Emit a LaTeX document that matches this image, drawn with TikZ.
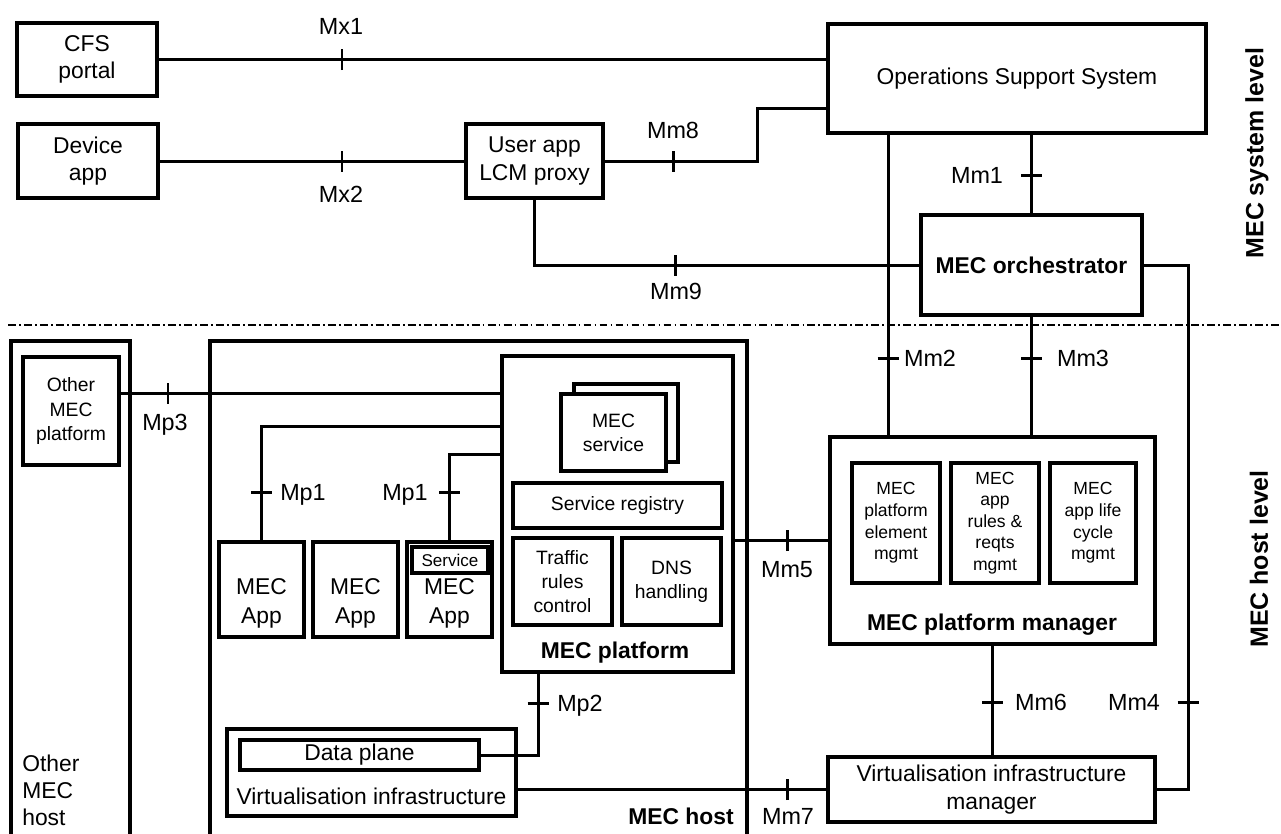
\documentclass[tikz,border=0pt]{standalone}
\usepackage{fontspec}
\setmainfont{Liberation Sans}

\begin{document}
\begin{tikzpicture}[x=0.02cm, y=-0.02cm,
        box/.style={draw, line width=1.8pt, fill=white, align=center, inner sep=0pt, font=\fontsize{13}{15.6}\selectfont},
        inbox/.style={box, font=\fontsize{11}{13.7}\selectfont},
        mgbox/.style={box, font=\fontsize{10}{12.3}\selectfont},
        frame/.style={line width=1.8pt},
        conn/.style={line width=1.7pt},
        lbl/.style={font=\fontsize{13.3}{16}\selectfont, inner sep=0pt, text height=9.5pt, text depth=0pt},
        txt/.style={font=\fontsize{13}{16.5}\selectfont, align=center, inner sep=0pt},
        title/.style={font=\bfseries\fontsize{13}{15.6}\selectfont, inner sep=0pt},
        level/.style={font=\bfseries\fontsize{14.2}{17}\selectfont, rotate=90, inner sep=0pt}]
    \useasboundingbox (0,0) rectangle (1281,833);

    % frames of the hosts
    \draw[frame] (11,834) |- (130,341) -- (130,834);
    \draw[frame] (210,834) |- (747,341) -- (747,834);
    \draw[line width=1pt, dash pattern=on 4.5pt off 1.8pt on 1pt off 1.8pt] (8,325) -- (1281,325);

    % MEC system level
    \node[box, minimum width=2.8cm, minimum height=1.46cm] (cfs) at (87,59.5) {CFS\\portal};
    \node[box, minimum width=2.8cm, minimum height=1.48cm] (devapp) at (88,161) {Device\\app};
    \node[box, minimum width=2.74cm, minimum height=1.48cm] (lcm) at (534.5,161) {User app\\LCM proxy};
    \node[box, minimum width=7.56cm, minimum height=2.18cm] (oss) at (1017,78.5) {Operations Support System};
    \node[box, minimum width=4.42cm, minimum height=2cm, font=\bfseries\fontsize{13}{15.6}\selectfont] (orch) at (1031.5,265) {MEC orchestrator};

    \node[level] (syslvl) at (1257,153) {MEC system level};
    \node[level] (hostlvl) at (1259,559) {MEC host level};

    % MEC host level
    \node[inbox, minimum width=1.92cm, minimum height=2.16cm, font=\fontsize{11}{14.2}\selectfont] (otplat) at (71,411) {Other\\MEC\\platform};
    \node[txt, anchor=west, align=left, font=\fontsize{13}{15.4}\selectfont] (othost) at (22,790) {Other\\MEC\\host};
    \node[title] (hostl) at (681,816) {MEC host};

    \node[box, minimum width=4.62cm, minimum height=6.32cm] (plat) at (617.5,514) {};
    \node[title] (platl) at (615,653) {MEC platform};
    \node[box, minimum width=2.08cm, minimum height=1.56cm] (svcback) at (626,423) {};
    \node[inbox, minimum width=2.1cm, minimum height=1.54cm] (svc) at (613.5,432.5) {MEC\\service};
    \node[inbox, minimum width=4.18cm, minimum height=0.9cm] (reg) at (617.5,505.5) {Service registry};
    \node[inbox, minimum width=1.98cm, minimum height=1.74cm] (traffic) at (562.5,581.5) {Traffic\\rules\\control};
    \node[inbox, minimum width=1.98cm, minimum height=1.74cm] (dns) at (671.5,581.5) {DNS\\handling};

    \node[box, minimum width=1.7cm, minimum height=1.9cm] (app1) at (261.5,589.5) {};
    \node[box, minimum width=1.7cm, minimum height=1.9cm] (app2) at (355.5,589.5) {};
    \node[box, minimum width=1.7cm, minimum height=1.9cm] (app3) at (449.5,589.5) {};
    \node[txt] (app1t) at (261.5,603) {MEC\\App};
    \node[txt] (app2t) at (355.5,603) {MEC\\App};
    \node[txt] (app3t) at (449.5,603) {MEC\\App};
    \node[box, minimum width=1.52cm, minimum height=0.52cm, font=\fontsize{9.7}{11}\selectfont] (svcmini) at (450,560) {Service};

    \node[box, minimum width=5.78cm, minimum height=1.74cm] (vi) at (371.5,772.5) {};
    \node[txt] (vit) at (371.5,796) {Virtualisation infrastructure};
    \node[box, minimum width=4.78cm, minimum height=0.6cm] (dp) at (359.5,755) {Data plane};

    \node[box, minimum width=6.5cm, minimum height=4.14cm] (pm) at (992.5,540.5) {};
    \node[title] (pml) at (992,625) {MEC platform manager};
    \node[mgbox, minimum width=1.76cm, minimum height=2.4cm] (pe) at (896,523) {MEC\\platform\\element\\mgmt};
    \node[mgbox, minimum width=1.76cm, minimum height=2.4cm] (ar) at (995,523) {MEC\\app\\rules \&\\reqts\\mgmt};
    \node[mgbox, minimum width=1.72cm, minimum height=2.4cm] (lc) at (1093,523) {MEC\\app life\\cycle\\mgmt};
    \node[box, minimum width=6.54cm, minimum height=1.3cm] (vim) at (991.5,789.5) {Virtualisation infrastructure\\manager};

    % reference points
    \coordinate (mx1) at (342,59.5);
    \coordinate (mx2) at (342,161);
    \coordinate (mm8) at (673,161);
    \coordinate (mm8bend) at (757,108);
    \coordinate (mm9) at (675,265);
    \coordinate (mm1) at (1031.5,175);
    \coordinate (mm2) at (888,358);
    \coordinate (mm3) at (1031.5,358);
    \coordinate (mm4) at (1188,702);
    \coordinate (mm5) at (787,540.5);
    \coordinate (mm6) at (992.5,702);
    \coordinate (mm7) at (787,789.5);
    \coordinate (mp3) at (168,393);
    \coordinate (mp1a) at (261.5,492);
    \coordinate (mp1atop) at (261.5,426);
    \coordinate (mp1b) at (449.5,492);
    \coordinate (mp1btop) at (449.5,454);
    \coordinate (mp2) at (538,703);

    % reference points lines
    \draw[conn] (cfs.east) -- (cfs.east -| oss.west);
    \draw[conn] (devapp) -- (lcm);
    \draw[conn] (lcm.east) -| (mm8bend) -- (mm8bend -| oss.west);
    \draw[conn] (lcm.south) |- (orch.west);
    \draw[conn] (orch.north) -- (orch.north |- oss.south);
    \draw[conn] (oss.south -| mm2) -- (mm2 |- pm.north);
    \draw[conn] (orch.south) -- (orch.south |- pm.north);
    \draw[conn] (orch.east) -| (mm4) |- (vim.east);
    \draw[conn] (otplat.east |- mp3) -- (mp3 -| plat.west);
    \draw[conn] (app1.north) -- (mp1atop) -- (mp1atop -| plat.west);
    \draw[conn] (app3.north) -- (mp1btop) -- (mp1btop -| plat.west);
    \draw[conn] (plat.south -| mp2) -- (mp2) |- (dp.east);
    \draw[conn] (pm.west) -- (pm.west -| plat.east);
    \draw[conn] (pm.south) -- (pm.south |- vim.north);
    \draw[conn] (vim.west) -- (vim.west -| vi.east);

    % ticks
    \foreach \p in {mx1,mx2,mm8,mm9,mm5,mm7,mp3}
        \draw[conn] ([yshift=-0.21cm]\p) -- ([yshift=0.21cm]\p);
    \foreach \p in {mm1,mm2,mm3,mm4,mm6,mp1a,mp1b,mp2}
        \draw[conn] ([xshift=-0.21cm]\p) -- ([xshift=0.21cm]\p);

    % names of reference points
    \node[lbl] (mx1l) at (341,26) {Mx1};
    \node[lbl] (mx2l) at (341,194) {Mx2};
    \node[lbl] (mm8l) at (673,130) {Mm8};
    \node[lbl] (mm9l) at (676,291) {Mm9};
    \node[lbl] (mm1l) at (977,175) {Mm1};
    \node[lbl] (mm2l) at (930,358) {Mm2};
    \node[lbl] (mm3l) at (1083,358) {Mm3};
    \node[lbl] (mm4l) at (1134,702) {Mm4};
    \node[lbl] (mm5l) at (787,569) {Mm5};
    \node[lbl] (mm6l) at (1041,702) {Mm6};
    \node[lbl] (mm7l) at (788,816) {Mm7};
    \node[lbl] (mp3l) at (165,422) {Mp3};
    \node[lbl] (mp1al) at (303,492) {Mp1};
    \node[lbl] (mp1bl) at (405,492) {Mp1};
    \node[lbl] (mp2l) at (580,703) {Mp2};
\end{tikzpicture}
\end{document}
